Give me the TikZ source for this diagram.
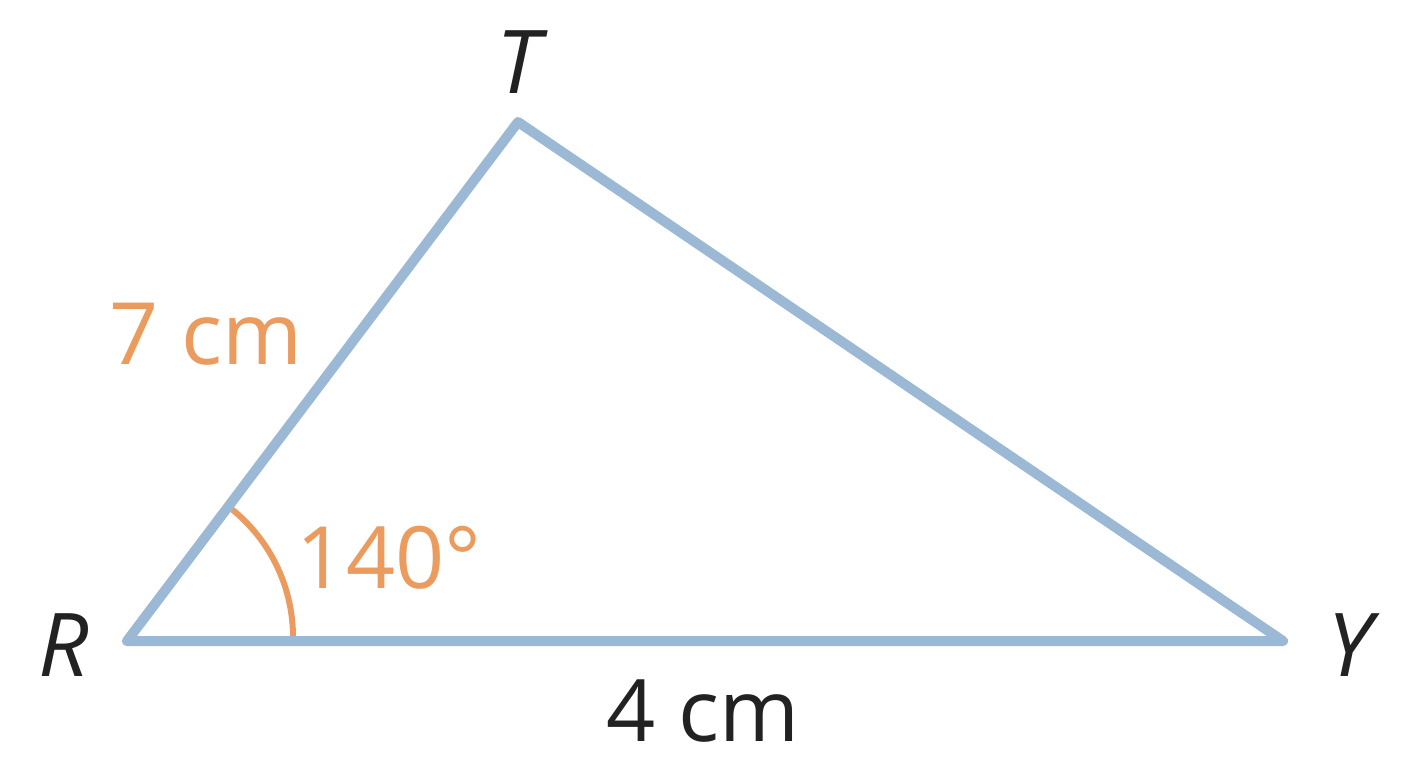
\documentclass[tikz,border=0pt]{standalone}
\usepackage{fontspec}
\usetikzlibrary{calc}
\setmainfont{Open Sans}
\definecolor{sideblue}{HTML}{9BB8D5}
\definecolor{lblorange}{HTML}{EB9B5E}
\definecolor{lblblack}{HTML}{222222}
\begin{document}
\begin{tikzpicture}[x=1pt,y=-1pt,
  side/.style={draw=sideblue,line width=10pt,line cap=round,line join=round},
  anglearc/.style={draw=lblorange,line width=6pt},
  vlabel/.style={font=\fontsize{88}{100}\selectfont\itshape,text=lblblack,inner sep=0pt},
  olabel/.style={font=\fontsize{86}{100}\selectfont,text=lblorange,inner sep=0pt},
  blabel/.style={font=\fontsize{86}{100}\selectfont,text=lblblack,inner sep=0pt}]
\useasboundingbox (0,0) rectangle (1408,768);
\coordinate (R) at (127,641);
\coordinate (T) at (518,122);
\coordinate (Y) at (1283,641);
\draw[anglearc] ($(R)+(166,-4)$) arc[start angle=0,end angle=-53,radius=164];
\draw[side] (R) -- (T) -- (Y) -- cycle;
\node[vlabel] (lT) at (518,62) {T};
\node[vlabel] (lR) at (64,645) {R};
\node[vlabel] (lY) at (1350,645) {Y};
\node[olabel] (l7) at (206,334) {7 cm};
\node[olabel] (la) at (389,558) {140°};
\node[blabel] (l4) at (703,711) {4 cm};
\end{tikzpicture}
\end{document}
